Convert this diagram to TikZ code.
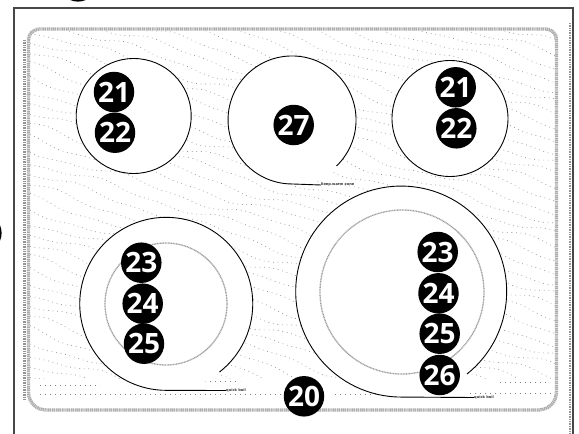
\documentclass[tikz,border=0pt]{standalone}
\usepackage{fontspec}
\setmainfont{DejaVu Sans}
\newfontfamily\calloutfont{Open Sans}
\tikzset{
  badge/.style={circle,fill=black,text=white,inner sep=0pt,minimum size=40.5pt,font=\calloutfont\fontsize{28}{28}\selectfont\bfseries},
  ghost/.style={circle,draw=black,line width=1.2pt,fill=black,inner sep=0pt,minimum size=38pt},
  burner/.style={circle,draw=black,fill=white,line width=.9pt,inner sep=0pt},
  coil/.style={draw=black,line width=.9pt},
  innerring/.style={draw=black!38,line width=1.3pt,dash pattern=on 1pt off .6pt},
  tinylabel/.style={font=\fontsize{3.6}{4}\selectfont\bfseries,inner sep=0pt,text=black!80,anchor=west},
  framing/.style={draw=black!72,line width=1.9pt,dash pattern=on 2.6pt off .4pt},
  bandouter/.style={draw=black!42,line width=2.4pt,dash pattern=on 1pt off .7pt},
  panel/.style={draw=black!32,line width=3.4pt,dash pattern=on 1.3pt off .6pt},
  grain/.style={draw=black!42,line width=.65pt,dash pattern=on .8pt off 3.8pt},
  grainflat/.style={draw=black!50,line width=.7pt,dash pattern=on .8pt off 4.2pt}
}
\begin{document}
\begin{tikzpicture}[x=1pt,y=-1pt]
\useasboundingbox (0,0) rectangle (579,434);
\clip (0,0) rectangle (579,434);
\fill[white] (0,0) rectangle (579,434);
% partial callouts cut by the page edge
\node[ghost] (topcut) at (78,-18) {};
\node[ghost] (leftcut) at (-18,233) {};
% frame
\draw[framing] (14,434) -- (14,8) -- (573,8) -- (573,434);
\draw[bandouter] (24.5,40) -- (24.5,400);
\draw[bandouter] (570,23) -- (570,434);
% cooktop grain
\begin{scope}
\clip (30,31) rectangle (555,378);
\foreach \y [count=\i] in {-150,-138,...,400}{
  \pgfmathsetmacro{\ph}{mod(\i*67,360)}
  \draw[grain] plot[domain=30:556,samples=75,smooth] (\x,{\y+0.3*(\x-30)+3.5*sin(\x*2.6+\ph)+1.5*sin(\x*6.1+\ph*2)});
}
\end{scope}
\draw[grainflat] (40,385) -- (100,385);
\draw[grainflat] (200,381) -- (240,381);
\draw[grainflat] (40,394) -- (284,394);
\draw[grainflat] (335,394) -- (395,394);
\draw[grainflat] (470,393) -- (552,393);
\draw[grainflat] (500,382) -- (550,382);
% glass panel
\draw[panel] (28.5,40) arc[start angle=180,end angle=270,radius=11] -- (546,29) arc[start angle=-90,end angle=0,radius=10.5] -- (556.5,392) arc[start angle=0,end angle=90,radius=18] -- (46,410) arc[start angle=90,end angle=180,radius=17.5] -- cycle;
% burners
\node[burner,minimum size=115pt] (bTL) at (133.7,116) {};
\node[burner,minimum size=116pt] (bTR) at (450,118.5) {};
\fill[white] (292,120) circle[radius=64];
\fill[white] (166,304) circle[radius=87];
\fill[white] (401.5,292) circle[radius=105.5];
% inner rings
\node[circle,innerring,minimum size=122pt,inner sep=0pt] (ringL) at (166,304) {};
\node[circle,innerring,minimum size=164pt,inner sep=0pt] (ringR) at (402,292) {};
% labels at the end of the coil tails
\node[tinylabel] (lblWarm) at (321,185) {keep warm zone};
\node[tinylabel] (lblBoilL) at (226,390.5) {quick boil};
\node[tinylabel] (lblBoilR) at (474,397.5) {quick boil};
\coordinate (endWarm) at (336.5,166);
\coordinate (endBoilL) at (219.5,372);
\coordinate (endBoilR) at (467,374);
% coils
\draw[coil] (endWarm) arc[start angle=46,end angle=-270,radius=64] -- (lblWarm.west);
\draw[coil] (endBoilL) arc[start angle=52,end angle=-270,radius=86.5] -- (lblBoilL.west);
\draw[coil] (endBoilR) arc[start angle=51.4,end angle=-270,radius=105.5] -- (lblBoilR.west);
% callouts
\node[badge] (a21) at (114,92) {21};
\node[badge] (a22) at (115,132.7) {22};
\node[badge] (a27) at (293.7,125) {27};
\node[badge] (b21) at (455.7,87.3) {21};
\node[badge] (b22) at (456.3,128.3) {22};
\node[badge] (c23) at (141.3,262.7) {23};
\node[badge] (c24) at (142.7,303.7) {24};
\node[badge] (c25) at (144,343.7) {25};
\node[badge] (d23) at (437.7,252) {23};
\node[badge] (d24) at (438.5,293.3) {24};
\node[badge] (d25) at (439.7,333.7) {25};
\node[badge] (d26) at (439.7,375) {26};
\node[badge] (e20) at (304,396.3) {20};
\end{tikzpicture}
\end{document}
